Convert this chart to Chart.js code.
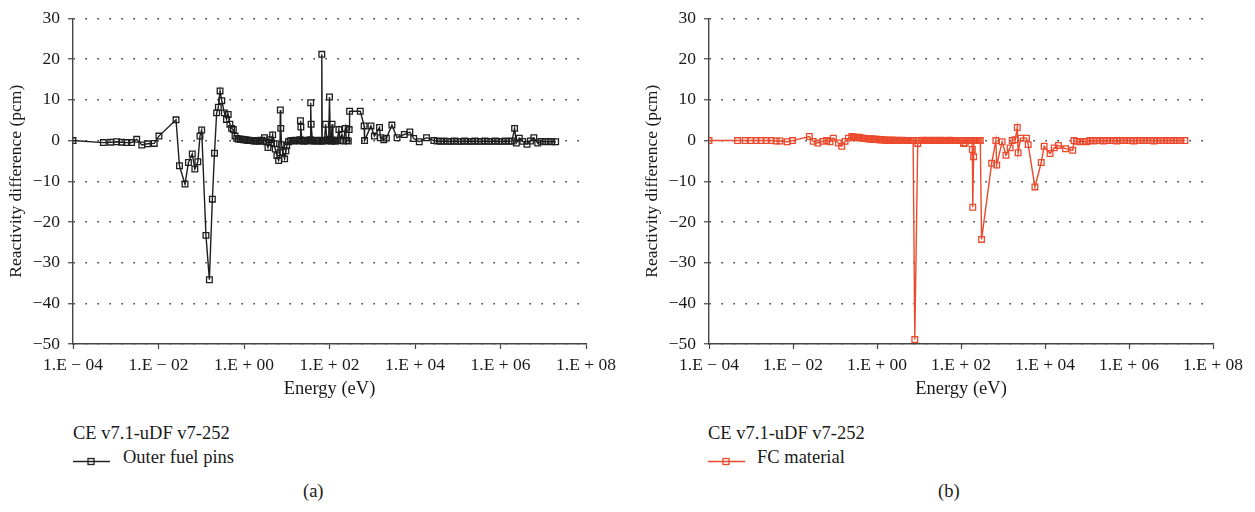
<!DOCTYPE html>
<html>
<head>
<meta charset="utf-8">
<script src="https://cdn.jsdelivr.net/npm/chart.js@4.4.1/dist/chart.umd.min.js"></script>
<style>
  body { margin: 0; background: #fff; width: 1255px; height: 512px; overflow: hidden; position: relative; }
  canvas { position: absolute; top: 0; }
  .txt { position: absolute; font-family: "Liberation Serif", serif; font-size: 18.5px; line-height: 20px; color: #1a1a1a; white-space: nowrap; }
  svg { position: absolute; }
</style>
</head>
<body>
<canvas id="chartA" width="627" height="404" style="left:0"></canvas>
<canvas id="chartB" width="619" height="404" style="left:636px"></canvas>

<div class="txt" style="left:73px; top:423px">CE v7.1-uDF v7-252</div>
<svg style="left:73px; top:454px" width="38" height="14"><line x1="0" y1="7.5" x2="37" y2="7.5" stroke="#222" stroke-width="1.4"/><rect x="15" y="4.5" width="6" height="6" fill="none" stroke="#222" stroke-width="1.3"/></svg>
<div class="txt" style="left:123px; top:447px">Outer fuel pins</div>
<div class="txt" style="left:303px; top:481px">(a)</div>

<div class="txt" style="left:708px; top:423px">CE v7.1-uDF v7-252</div>
<svg style="left:708px; top:454px" width="38" height="14"><line x1="0" y1="7.5" x2="37" y2="7.5" stroke="#EC4A2C" stroke-width="1.4"/><rect x="15" y="4.5" width="6" height="6" fill="none" stroke="#EC4A2C" stroke-width="1.3"/></svg>
<div class="txt" style="left:757px; top:447px">FC material</div>
<div class="txt" style="left:938px; top:481px">(b)</div>

<script>
// log10 of energy (eV) and reactivity difference (pcm)
const outerLogE = [
  -4.00, -3.29, -3.12, -2.98, -2.86, -2.74, -2.63, -2.51, -2.39, -2.26, -2.10, -1.99,
  -1.59, -1.51, -1.38, -1.30, -1.21, -1.15, -1.08, -1.03, -0.99, -0.89, -0.81, -0.74, -0.69,
  -0.64, -0.60, -0.56, -0.52, -0.46, -0.41, -0.37, -0.33, -0.29, -0.25, -0.21,
  -0.17, -0.13, -0.09, -0.05, -0.01, 0.03, 0.07, 0.11, 0.15, 0.19, 0.23, 0.27, 0.31, 0.35, 0.39, 0.43,
  0.48, 0.52, 0.56, 0.60, 0.64, 0.67, 0.70, 0.73, 0.77, 0.81, 0.84, 0.85, 0.86, 0.88, 0.91, 0.95, 0.98, 1.00,
  1.04, 1.08, 1.12, 1.16, 1.20, 1.24, 1.28, 1.31, 1.32, 1.33, 1.36, 1.40, 1.44, 1.48, 1.52, 1.55, 1.56, 1.57,
  1.60, 1.64, 1.68, 1.72, 1.76, 1.81, 1.82, 1.83, 1.88, 1.91, 1.94, 1.98, 2.00, 2.02, 2.04, 2.06, 2.08, 2.11,
  2.14, 2.18, 2.22, 2.25, 2.29, 2.33, 2.37, 2.40, 2.44, 2.46,
  2.47, 2.72, 2.81, 2.82, 2.97, 3.05, 3.17, 3.19, 3.27, 3.33, 3.46, 3.58, 3.75, 3.88, 3.97, 4.10, 4.27, 4.44,
  4.52, 4.60, 4.68, 4.76, 4.84, 4.92, 5.00, 5.08, 5.16, 5.24, 5.32, 5.40, 5.48, 5.56, 5.64, 5.72, 5.80, 5.88,
  5.96, 6.04, 6.12, 6.20, 6.27,
  6.33, 6.37, 6.44, 6.52, 6.62, 6.70, 6.78, 6.87, 6.95, 7.04, 7.12, 7.20, 7.29
];
const outerDiff = [
  0, -0.5, -0.4, -0.3, -0.4, -0.5, -0.5, 0.3, -1.1, -0.8, -0.7, 1.1,
  5.1, -6.2, -10.7, -5.4, -3.3, -7.0, -5.2, 1.1, 2.6, -23.3, -34.2, -14.4, -3.1,
  6.8, 8.2, 12.2, 9.8, 6.8, 5.2, 6.4, 4.0, 3.0, 2.7, 1.1,
  0.5, 0.4, 0.3, 0.3, 0.2, 0.2, 0.1, 0.1, 0.0, 0.0, -0.1, -0.1, 0.0, -0.2, 0.1, -0.1,
  0.7, -0.3, -1.7, 0.2, -0.5, 1.4, -0.8, -2.1, -3.7, -4.9, -3.0, 7.5, 3.0, -1.0, -2.8, -4.5, -2.5, -1.3,
  -0.3, -0.1, 0.0, -0.1, 0.1, 0.0, -0.1, 0.2, 4.9, 3.3, 0.0, -0.2, 0.1, -0.1, 0.0, 0.2, 9.3, 4.0,
  0.0, -0.2, 0.1, -0.1, 0.0, -0.2, 21.2, 0.1, -0.1, 4.0, 0.0, 0.2, 10.7, 0.3, -0.2, 4.0, 0.1, 0.0,
  -0.2, 0.1, 2.7, 0.0, 1.5, -0.1, 3.0, 0.0, -0.1, 2.7,
  7.2, 7.2, 3.6, 0.0, 3.6, 1.1, 3.2, 0.7, 0.2, 0.6, 3.8, 0.7, 1.5, 2.1, 0.5, -0.3, 0.7, 0.0,
  -0.1, -0.2, -0.1, -0.2, -0.2, -0.1, -0.2, -0.2, -0.1, -0.2, -0.2, -0.1, -0.2, -0.2, -0.1, -0.2, -0.2, -0.1,
  -0.2, -0.2, -0.1, -0.2, -0.1,
  3.0, -0.6, 0.6, -0.2, -0.9, -0.1, 0.7, -0.6, -0.2, -0.3, -0.2, -0.3, -0.3
];

const fcLogE = [
  -4.00, -3.32, -3.14, -3.00, -2.88, -2.76, -2.64, -2.52, -2.40, -2.31, -2.14, -2.01,
  -1.61, -1.52, -1.41, -1.29, -1.20, -1.12, -1.04, -0.92, -0.84, -0.76, -0.68, -0.60,
  -0.56, -0.52, -0.48, -0.44, -0.40, -0.36, -0.32, -0.28, -0.24, -0.20, -0.16, -0.12,
  -0.08, -0.04, 0.00, 0.04, 0.08, 0.12, 0.16, 0.20, 0.24, 0.28, 0.32, 0.36,
  0.40, 0.44, 0.48, 0.52, 0.56, 0.60, 0.64, 0.68, 0.72, 0.76, 0.80, 0.84,
  0.86, 0.90, 0.97, 1.01,
  1.05, 1.09, 1.13, 1.17, 1.21, 1.25, 1.29, 1.33, 1.37, 1.41, 1.45, 1.49, 1.53,
  1.57, 1.61, 1.65, 1.69, 1.73, 1.77, 1.81, 1.85, 1.89, 1.93, 1.97, 2.01,
  2.06, 2.10, 2.14, 2.18, 2.22, 2.26, 2.27, 2.28, 2.30, 2.31, 2.35, 2.39, 2.43, 2.46, 2.49,
  2.73, 2.83, 2.85, 2.98, 3.07, 3.17, 3.22, 3.29, 3.34, 3.36, 3.42, 3.56, 3.60, 3.76, 3.91,
  3.98, 4.12, 4.22, 4.32, 4.49, 4.66, 4.69,
  4.75, 4.83, 4.91, 4.99, 5.07, 5.15, 5.23, 5.31, 5.39, 5.47, 5.55, 5.63, 5.71, 5.79, 5.87, 5.95,
  6.03, 6.11, 6.19, 6.27, 6.35, 6.43, 6.51, 6.59, 6.67, 6.75, 6.83, 6.91, 6.99, 7.07, 7.15, 7.23, 7.33
];
const fcDiff = [
  0, 0, 0, 0, 0, 0, 0, 0, -0.1, -0.1, -0.3, 0,
  1.0, -0.2, -0.6, -0.2, 0, -0.3, 0.6, -0.6, -1.4, -0.2, 0.6, 1.0,
  0.8, 0.8, 0.7, 0.8, 0.7, 0.6, 0.6, 0.5, 0.5, 0.4, 0.4, 0.4,
  0.3, 0.3, 0.3, 0.2, 0.2, 0.2, 0.2, 0.1, 0.1, 0.1, 0.1, 0.1,
  0.1, 0.0, 0.1, 0.0, 0.0, 0.1, 0.0, 0.0, 0.0, 0.0, 0.0, 0.0,
  0.0, -48.9, -0.7, 0.0,
  0.0, 0.1, 0.0, 0.0, 0.1, 0.0, 0.0, 0.0, 0.1, 0.0, 0.0, 0.0, 0.1,
  0.0, 0.0, 0.0, 0.0, 0.1, 0.0, 0.0, 0.0, 0.0, 0.0, 0.0, 0.0,
  -0.7, -0.6, 0.0, 0.0, 0.0, 0.0, -2.2, -16.4, -4.0, 0.0, 0.0, 0.0, 0.0, 0.0, -24.3,
  -5.6, 0.0, -6.0, -0.3, -3.6, -1.8, 0.0, 0.2, 3.2, -3.0, 0.6, 0.6, -1.0, -11.4, -5.4,
  -1.4, -3.2, -1.8, -1.2, -2.0, -2.4, 0.0,
  -0.2, -0.3, -0.2, -0.3, 0.0, -0.1, 0.0, 0.0, -0.1, 0.0, 0.0, 0.0, -0.1, 0.0, 0.0, 0.0,
  0.0, -0.1, 0.0, 0.0, 0.0, 0.0, 0.0, -0.1, 0.0, 0.0, 0.0, 0.0, 0.0, 0.0, 0.0, 0.0, 0.0
];

const energyTicks = [-4, -2, 0, 2, 4, 6, 8];
const diffTicks = [30, 20, 10, 0, -10, -20, -30, -40, -50];

const FONT = 'Liberation Serif';
const TEXT = '#1a1a1a';
const AXIS = '#444';

function energyLabel(v) {
  const p = String(Math.abs(v)).padStart(2, '0');
  return '1.E ' + (v < 0 ? '\u2212 ' : '+ ') + p;
}

function makeChart(id, xs, ys, color, label, padRight) {
  const pts = xs.map((x, i) => ({ x: x, y: ys[i] }));
  return new Chart(document.getElementById(id), {
    type: 'line',
    data: {
      datasets: [{
        label: label,
        data: pts,
        borderColor: color,
        borderWidth: 1.4,
        pointStyle: 'rect',
        pointRadius: 4,
        pointBorderWidth: 1.3,
        pointBorderColor: color,
        pointBackgroundColor: 'rgba(0,0,0,0)',
        tension: 0,
        fill: false
      }]
    },
    options: {
      responsive: false,
      animation: false,
      layout: { padding: { top: 10, right: padRight, bottom: 0, left: 0 } },
      plugins: { legend: { display: false }, tooltip: { enabled: false } },
      scales: {
        x: {
          type: 'linear',
          min: -4, max: 8,
          afterBuildTicks: s => { s.ticks = energyTicks.map(v => ({ value: v })); },
          afterFit: s => { s.height = 60; },
          ticks: { callback: v => energyLabel(v), color: TEXT, font: { family: FONT, size: 17.5 }, padding: 6, maxRotation: 0 },
          grid: { drawOnChartArea: false, drawTicks: true, tickLength: 5, tickColor: AXIS, tickWidth: 1.2 },
          border: { display: true, color: AXIS, width: 1.4 },
          title: { display: true, text: 'Energy (eV)', color: TEXT, font: { family: FONT, size: 18.5 }, padding: { top: 2, bottom: 4 } }
        },
        y: {
          min: -50, max: 30,
          afterBuildTicks: s => { s.ticks = diffTicks.map(v => ({ value: v })); },
          afterFit: s => { s.width = 73; },
          ticks: { callback: v => (v < 0 ? '\u2212' + Math.abs(v) : String(v)), color: TEXT, font: { family: FONT, size: 17.5 }, padding: 8 },
          grid: { color: '#333', lineWidth: 1.5, drawTicks: true, tickLength: 5, tickColor: AXIS, tickWidth: 1.2 },
          border: { display: true, color: AXIS, width: 1.4, dash: [1.5, 10.5] },
          title: { display: true, text: 'Reactivity difference (pcm)', color: TEXT, font: { family: FONT, size: 17.5 }, padding: { top: 6, bottom: 4 } }
        }
      }
    }
  });
}

makeChart('chartA', outerLogE, outerDiff, '#1e1e1e', 'Outer fuel pins', 41);
makeChart('chartB', fcLogE, fcDiff, '#EC4A2C', 'FC material', 42);
</script>
</body>
</html>
